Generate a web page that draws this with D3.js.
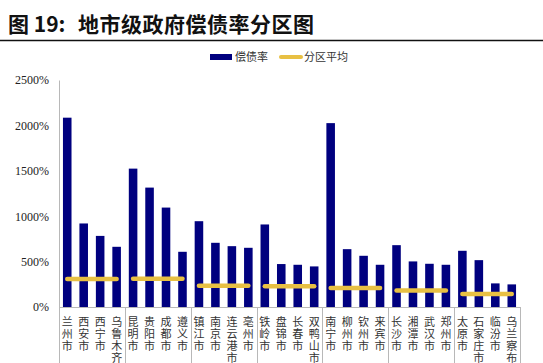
<!DOCTYPE html>
<html>
<head>
<meta charset="utf-8">
<script src="https://cdn.jsdelivr.net/npm/d3@7"></script>
<style>
body { margin: 0; background: #fff; }
svg { display: block; }
</style>
</head>
<body>
<div id="chart"></div>
<script>
(function(){

var width = 543,
	height = 363,
	margin = {left: 59, top: 80, right: 23, bottom: 56};

// data

var cities = ["兰州市","西安市","西宁市","乌鲁木齐",
	"昆明市","贵阳市","成都市","遵义市",
	"镇江市","南京市","连云港市","亳州市",
	"铁岭市","盘锦市","长春市","双鸭山市",
	"南宁市","柳州市","钦州市","来宾市",
	"长沙市","湘潭市","武汉市","郑州市",
	"太原市","石家庄市","临汾市","乌兰察布"];

var ratio = [2085, 920, 783, 663,
	1524, 1315, 1095, 608,
	945, 707, 670, 652,
	909, 473, 465, 447,
	2025, 637, 564, 465,
	681, 502, 476, 465,
	619, 516, 260, 249];

var group_size = 4;
var group_avg = [308, 310, 234, 229, 209, 183, 143];

var y_ticks = [0, 500, 1000, 1500, 2000, 2500];

var barcolor = "#00007f",
	avgcolor = "#e8c043",
	axiscolor = "#b8b8b8";

var svg = d3.select("#chart").append("svg")
	.attr("width", width)
	.attr("height", height);

// title and rule under it

var title = svg.append("text")
	.attr("y", 32)
	.style("font-family", "'Noto Sans CJK SC'")
	.style("font-weight", "bold")
	.style("font-size", "21px")
	.style("fill", "#111");

title.append("tspan").attr("x", 8).text("图 19:");
title.append("tspan").attr("x", 78).style("letter-spacing", "0.5px").text("地市级政府偿债率分区图");

svg.append("line")
	.attr("x1", 0).attr("x2", width)
	.attr("y1", 40.5).attr("y2", 40.5)
	.style("stroke", "#111")
	.style("stroke-width", 1.5);

// scales

var X = d3.scaleBand().domain(cities).range([margin.left, width - margin.right]).paddingInner(0.48).paddingOuter(0.24);
var Y = d3.scaleLinear().domain([0, 2500]).range([height - margin.bottom, margin.top]);

// y axis

var yaxis = svg.append("g")
	.attr("transform", "translate(" + margin.left + ",0)")
	.call(d3.axisLeft(Y).tickValues(y_ticks).tickSize(0).tickPadding(10).tickFormat(function(d){ return d + "%"; }));

yaxis.select(".domain").style("stroke", axiscolor);
yaxis.selectAll("text")
	.style("font-family", "'Liberation Serif'")
	.style("font-size", "12px")
	.style("fill", "#222");

// bars

svg.selectAll(".bar").data(ratio).enter().append("rect")
	.attr("class", "bar")
	.attr("x", function(d, i){ return X(cities[i]); })
	.attr("width", X.bandwidth())
	.attr("y", function(d){ return Y(d); })
	.attr("height", function(d){ return Y(0) - Y(d); })
	.style("fill", barcolor);

// x baseline and group separators

svg.append("line")
	.attr("x1", margin.left).attr("x2", width - margin.right)
	.attr("y1", Y(0) + 0.5).attr("y2", Y(0) + 0.5)
	.style("stroke", axiscolor);

var step = X.step();
var bounds = d3.range(group_avg.length + 1).map(function(g){
	return X.range()[0] + g * group_size * step;
});

svg.selectAll(".sep").data(bounds).enter().append("line")
	.attr("class", "sep")
	.attr("x1", function(d){ return Math.round(d) + 0.5; })
	.attr("x2", function(d){ return Math.round(d) + 0.5; })
	.attr("y1", Y(0))
	.attr("y2", height)
	.style("stroke", axiscolor);

// group averages

svg.selectAll(".avg").data(group_avg).enter().append("line")
	.attr("class", "avg")
	.attr("x1", function(d, g){ return X(cities[g * group_size]) + X.bandwidth() / 2; })
	.attr("x2", function(d, g){ return X(cities[g * group_size + group_size - 1]) + X.bandwidth() / 2; })
	.attr("y1", function(d){ return Y(d); })
	.attr("y2", function(d){ return Y(d); })
	.style("stroke", avgcolor)
	.style("stroke-width", 4.5)
	.style("stroke-linecap", "round");

// vertical category labels

svg.selectAll(".lab").data(cities).enter().append("text")
	.attr("class", "lab")
	.attr("x", function(d){ return X(d) + X.bandwidth() / 2; })
	.attr("y", 316)
	.style("writing-mode", "vertical-rl")
	.style("letter-spacing", "1px")
	.style("font-family", "'Noto Sans CJK SC'")
	.style("font-size", "11px")
	.style("fill", "#333")
	.text(function(d){ return d; });

// legend

var legend = svg.append("g").attr("transform", "translate(210,57)");

legend.append("rect")
	.attr("x", 0).attr("y", -3)
	.attr("width", 22).attr("height", 6)
	.style("fill", barcolor);

legend.append("text")
	.attr("x", 25).attr("y", 4)
	.style("font-family", "'Noto Sans CJK SC'")
	.style("font-size", "11px")
	.style("fill", "#333")
	.text("偿债率");

legend.append("line")
	.attr("x1", 71).attr("x2", 91)
	.attr("y1", 0).attr("y2", 0)
	.style("stroke", avgcolor)
	.style("stroke-width", 4)
	.style("stroke-linecap", "round");

legend.append("text")
	.attr("x", 94).attr("y", 4)
	.style("font-family", "'Noto Sans CJK SC'")
	.style("font-size", "11px")
	.style("fill", "#333")
	.text("分区平均");

})()
</script>
</body>
</html>
